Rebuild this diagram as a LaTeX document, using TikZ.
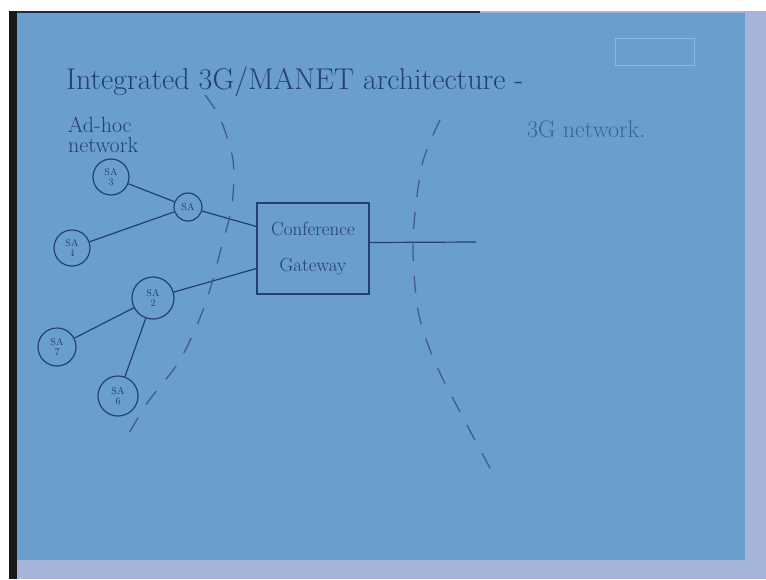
\documentclass[tikz,border=0pt]{standalone}
\usepackage{xcolor}
\usetikzlibrary{positioning}
\definecolor{board}{RGB}{106,158,205}
\definecolor{ink}{RGB}{36,62,118}
\definecolor{faintink}{RGB}{62,98,152}
\definecolor{lavender}{RGB}{166,180,220}
\tikzset{
    % Basic node styles
    sa/.style={circle, draw=ink, line width=1.2pt, inner sep=0pt, align=center,
               text=ink, font=\fontsize{10}{10}\selectfont},
    gateway/.style={rectangle, draw=ink, line width=1.3pt, minimum width=112pt,
                    minimum height=91pt, align=center, text=ink,
                    font=\fontsize{19}{36}\selectfont},
    hand/.style={text=ink, inner sep=0pt, anchor=base west},
    % Line styles
    link/.style={draw=ink, line width=1.2pt},
    border/.style={draw=ink!85, line width=1.3pt, dash pattern=on 17pt off 15pt},
}
\begin{document}
\begin{tikzpicture}[x=1pt, y=-1pt]
    \useasboundingbox (0,0) rectangle (766,579);

    % Board
    \fill[white] (0,0) rectangle (766,579);
    \fill[lavender] (9,11) rectangle (766,579);
    \fill[board] (17,13) rectangle (745,560);
    \fill[black!90] (9,11) rectangle (17,579);
    \draw[ink!70!black, line width=2pt] (17,12) -- (480,12);
    \draw[board!75!white, line width=0.8pt] (615,38) rectangle (694,65);

    % Texts
    \node[hand, font=\fontsize{30}{34}\selectfont] (title) at (66,89)
        {Integrated 3G/MANET architecture -};
    \node[hand, align=left, font=\fontsize{22}{20}\selectfont]
        (adhoc) at (68,152) {Ad-hoc\\network};
    \node[hand, text=faintink, font=\fontsize{24}{28}\selectfont] (net3g) at (527,137)
        {3G network.};

    % Gateway
    \node[gateway] (gw) at (313,248.5) {Conference\\Gateway};
    \coordinate (core) at (476,242);

    % Ad-hoc nodes
    \node[sa, minimum size=36pt] (sa3) at (111,177) {SA\\3};
    \node[sa, minimum size=28pt] (sa1) at (188,207) {SA};
    \node[sa, minimum size=36pt] (sa4) at (72,248) {SA\\4};
    \node[sa, minimum size=42pt] (sa2) at (153,298) {SA\\2};
    \node[sa, minimum size=38pt] (sa7) at (57,347) {SA\\7};
    \node[sa, minimum size=40pt] (sa6) at (118,396) {SA\\6};

    % Links
    \draw[link] (sa3) -- (sa1);
    \draw[link] (sa4) -- (sa1);
    \draw[link] (sa1) -- ([yshift=22pt]gw.west);
    \draw[link] (sa2) -- ([yshift=-20pt]gw.west);
    \draw[link] (sa7) -- (sa2);
    \draw[link] (sa6) -- (sa2);
    \draw[link] ([yshift=6pt]gw.east) -- (core);

    % Network borders
    \draw[border] plot[smooth] coordinates {(205,95) (220,118) (233,160) (232,205)
        (222,245) (205,305) (180,360) (148,402) (125,440)};
    \draw[border] plot[smooth] coordinates {(440,120) (422,165) (413,240) (418,310)
        (434,360) (459,410) (490,468)};
\end{tikzpicture}
\end{document}
